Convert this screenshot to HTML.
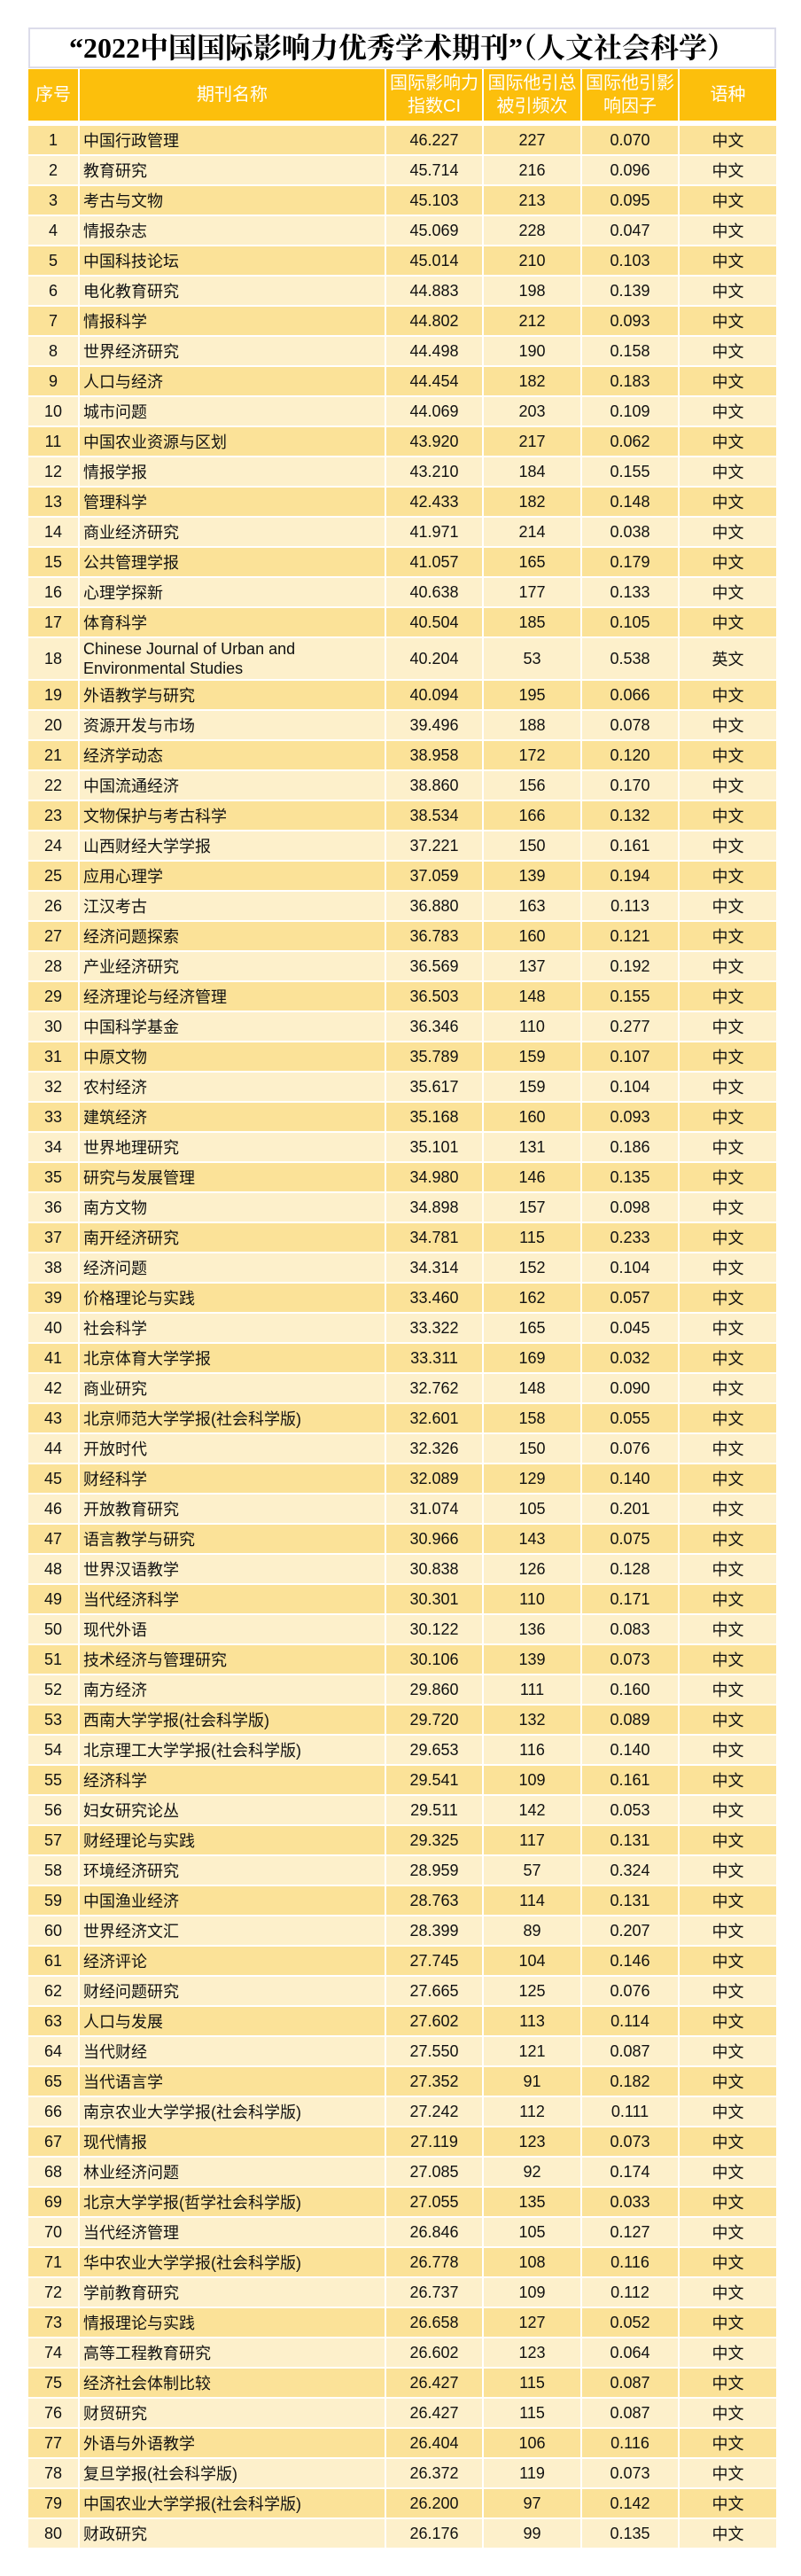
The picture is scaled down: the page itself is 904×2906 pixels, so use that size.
<!DOCTYPE html>
<html><head><meta charset="utf-8"><style>
body{margin:0;background:#fff;width:904px;height:2906px;overflow:hidden;font-family:"Liberation Sans","Noto Sans CJK SC",sans-serif;}
.title{position:absolute;left:32px;top:31px;width:840px;height:42px;border:2px solid #dcdcea;text-align:center;font:bold 32px/42px "Liberation Serif","Noto Serif CJK SC",serif;color:#000;}
.wrap{position:absolute;left:32px;top:78px;width:844px;}
.r{display:flex;height:32px;margin-bottom:2px;font-size:18px;color:#111;}
.r div{margin-right:2px;display:flex;align-items:center;justify-content:center;}
.r div:last-child{margin-right:0}
.c1{width:56px}.c2{width:344px;justify-content:flex-start!important;padding-left:0;box-sizing:border-box}.c3{width:108px}.c4{width:109px}.c5{width:108px}.c6{width:109px}
.c2 span{padding-left:4px}
.o div{background:#fbe298}.e div{background:#fdf0cb}
.h{height:58px;margin-bottom:6px;color:#fff;font-size:20px;line-height:26px;white-space:nowrap}
.h div{background:#fcbf0c;text-align:center}
.h .c2{justify-content:center!important}
.t{height:46px}
.t .c2 span{line-height:22px}
</style></head><body>
<div class="title">“2022中国国际影响力优秀学术期刊”（人文社会科学）</div>
<div class="wrap">
<div class="r h"><div class="c1">序号</div><div class="c2">期刊名称</div><div class="c3">国际影响力<br>指数CI</div><div class="c4">国际他引总<br>被引频次</div><div class="c5">国际他引影<br>响因子</div><div class="c6">语种</div></div>
<div class="r o"><div class="c1">1</div><div class="c2"><span>中国行政管理</span></div><div class="c3">46.227</div><div class="c4">227</div><div class="c5">0.070</div><div class="c6">中文</div></div>
<div class="r e"><div class="c1">2</div><div class="c2"><span>教育研究</span></div><div class="c3">45.714</div><div class="c4">216</div><div class="c5">0.096</div><div class="c6">中文</div></div>
<div class="r o"><div class="c1">3</div><div class="c2"><span>考古与文物</span></div><div class="c3">45.103</div><div class="c4">213</div><div class="c5">0.095</div><div class="c6">中文</div></div>
<div class="r e"><div class="c1">4</div><div class="c2"><span>情报杂志</span></div><div class="c3">45.069</div><div class="c4">228</div><div class="c5">0.047</div><div class="c6">中文</div></div>
<div class="r o"><div class="c1">5</div><div class="c2"><span>中国科技论坛</span></div><div class="c3">45.014</div><div class="c4">210</div><div class="c5">0.103</div><div class="c6">中文</div></div>
<div class="r e"><div class="c1">6</div><div class="c2"><span>电化教育研究</span></div><div class="c3">44.883</div><div class="c4">198</div><div class="c5">0.139</div><div class="c6">中文</div></div>
<div class="r o"><div class="c1">7</div><div class="c2"><span>情报科学</span></div><div class="c3">44.802</div><div class="c4">212</div><div class="c5">0.093</div><div class="c6">中文</div></div>
<div class="r e"><div class="c1">8</div><div class="c2"><span>世界经济研究</span></div><div class="c3">44.498</div><div class="c4">190</div><div class="c5">0.158</div><div class="c6">中文</div></div>
<div class="r o"><div class="c1">9</div><div class="c2"><span>人口与经济</span></div><div class="c3">44.454</div><div class="c4">182</div><div class="c5">0.183</div><div class="c6">中文</div></div>
<div class="r e"><div class="c1">10</div><div class="c2"><span>城市问题</span></div><div class="c3">44.069</div><div class="c4">203</div><div class="c5">0.109</div><div class="c6">中文</div></div>
<div class="r o"><div class="c1">11</div><div class="c2"><span>中国农业资源与区划</span></div><div class="c3">43.920</div><div class="c4">217</div><div class="c5">0.062</div><div class="c6">中文</div></div>
<div class="r e"><div class="c1">12</div><div class="c2"><span>情报学报</span></div><div class="c3">43.210</div><div class="c4">184</div><div class="c5">0.155</div><div class="c6">中文</div></div>
<div class="r o"><div class="c1">13</div><div class="c2"><span>管理科学</span></div><div class="c3">42.433</div><div class="c4">182</div><div class="c5">0.148</div><div class="c6">中文</div></div>
<div class="r e"><div class="c1">14</div><div class="c2"><span>商业经济研究</span></div><div class="c3">41.971</div><div class="c4">214</div><div class="c5">0.038</div><div class="c6">中文</div></div>
<div class="r o"><div class="c1">15</div><div class="c2"><span>公共管理学报</span></div><div class="c3">41.057</div><div class="c4">165</div><div class="c5">0.179</div><div class="c6">中文</div></div>
<div class="r e"><div class="c1">16</div><div class="c2"><span>心理学探新</span></div><div class="c3">40.638</div><div class="c4">177</div><div class="c5">0.133</div><div class="c6">中文</div></div>
<div class="r o"><div class="c1">17</div><div class="c2"><span>体育科学</span></div><div class="c3">40.504</div><div class="c4">185</div><div class="c5">0.105</div><div class="c6">中文</div></div>
<div class="r e t"><div class="c1">18</div><div class="c2"><span>Chinese Journal of Urban and<br>Environmental Studies</span></div><div class="c3">40.204</div><div class="c4">53</div><div class="c5">0.538</div><div class="c6">英文</div></div>
<div class="r o"><div class="c1">19</div><div class="c2"><span>外语教学与研究</span></div><div class="c3">40.094</div><div class="c4">195</div><div class="c5">0.066</div><div class="c6">中文</div></div>
<div class="r e"><div class="c1">20</div><div class="c2"><span>资源开发与市场</span></div><div class="c3">39.496</div><div class="c4">188</div><div class="c5">0.078</div><div class="c6">中文</div></div>
<div class="r o"><div class="c1">21</div><div class="c2"><span>经济学动态</span></div><div class="c3">38.958</div><div class="c4">172</div><div class="c5">0.120</div><div class="c6">中文</div></div>
<div class="r e"><div class="c1">22</div><div class="c2"><span>中国流通经济</span></div><div class="c3">38.860</div><div class="c4">156</div><div class="c5">0.170</div><div class="c6">中文</div></div>
<div class="r o"><div class="c1">23</div><div class="c2"><span>文物保护与考古科学</span></div><div class="c3">38.534</div><div class="c4">166</div><div class="c5">0.132</div><div class="c6">中文</div></div>
<div class="r e"><div class="c1">24</div><div class="c2"><span>山西财经大学学报</span></div><div class="c3">37.221</div><div class="c4">150</div><div class="c5">0.161</div><div class="c6">中文</div></div>
<div class="r o"><div class="c1">25</div><div class="c2"><span>应用心理学</span></div><div class="c3">37.059</div><div class="c4">139</div><div class="c5">0.194</div><div class="c6">中文</div></div>
<div class="r e"><div class="c1">26</div><div class="c2"><span>江汉考古</span></div><div class="c3">36.880</div><div class="c4">163</div><div class="c5">0.113</div><div class="c6">中文</div></div>
<div class="r o"><div class="c1">27</div><div class="c2"><span>经济问题探索</span></div><div class="c3">36.783</div><div class="c4">160</div><div class="c5">0.121</div><div class="c6">中文</div></div>
<div class="r e"><div class="c1">28</div><div class="c2"><span>产业经济研究</span></div><div class="c3">36.569</div><div class="c4">137</div><div class="c5">0.192</div><div class="c6">中文</div></div>
<div class="r o"><div class="c1">29</div><div class="c2"><span>经济理论与经济管理</span></div><div class="c3">36.503</div><div class="c4">148</div><div class="c5">0.155</div><div class="c6">中文</div></div>
<div class="r e"><div class="c1">30</div><div class="c2"><span>中国科学基金</span></div><div class="c3">36.346</div><div class="c4">110</div><div class="c5">0.277</div><div class="c6">中文</div></div>
<div class="r o"><div class="c1">31</div><div class="c2"><span>中原文物</span></div><div class="c3">35.789</div><div class="c4">159</div><div class="c5">0.107</div><div class="c6">中文</div></div>
<div class="r e"><div class="c1">32</div><div class="c2"><span>农村经济</span></div><div class="c3">35.617</div><div class="c4">159</div><div class="c5">0.104</div><div class="c6">中文</div></div>
<div class="r o"><div class="c1">33</div><div class="c2"><span>建筑经济</span></div><div class="c3">35.168</div><div class="c4">160</div><div class="c5">0.093</div><div class="c6">中文</div></div>
<div class="r e"><div class="c1">34</div><div class="c2"><span>世界地理研究</span></div><div class="c3">35.101</div><div class="c4">131</div><div class="c5">0.186</div><div class="c6">中文</div></div>
<div class="r o"><div class="c1">35</div><div class="c2"><span>研究与发展管理</span></div><div class="c3">34.980</div><div class="c4">146</div><div class="c5">0.135</div><div class="c6">中文</div></div>
<div class="r e"><div class="c1">36</div><div class="c2"><span>南方文物</span></div><div class="c3">34.898</div><div class="c4">157</div><div class="c5">0.098</div><div class="c6">中文</div></div>
<div class="r o"><div class="c1">37</div><div class="c2"><span>南开经济研究</span></div><div class="c3">34.781</div><div class="c4">115</div><div class="c5">0.233</div><div class="c6">中文</div></div>
<div class="r e"><div class="c1">38</div><div class="c2"><span>经济问题</span></div><div class="c3">34.314</div><div class="c4">152</div><div class="c5">0.104</div><div class="c6">中文</div></div>
<div class="r o"><div class="c1">39</div><div class="c2"><span>价格理论与实践</span></div><div class="c3">33.460</div><div class="c4">162</div><div class="c5">0.057</div><div class="c6">中文</div></div>
<div class="r e"><div class="c1">40</div><div class="c2"><span>社会科学</span></div><div class="c3">33.322</div><div class="c4">165</div><div class="c5">0.045</div><div class="c6">中文</div></div>
<div class="r o"><div class="c1">41</div><div class="c2"><span>北京体育大学学报</span></div><div class="c3">33.311</div><div class="c4">169</div><div class="c5">0.032</div><div class="c6">中文</div></div>
<div class="r e"><div class="c1">42</div><div class="c2"><span>商业研究</span></div><div class="c3">32.762</div><div class="c4">148</div><div class="c5">0.090</div><div class="c6">中文</div></div>
<div class="r o"><div class="c1">43</div><div class="c2"><span>北京师范大学学报(社会科学版)</span></div><div class="c3">32.601</div><div class="c4">158</div><div class="c5">0.055</div><div class="c6">中文</div></div>
<div class="r e"><div class="c1">44</div><div class="c2"><span>开放时代</span></div><div class="c3">32.326</div><div class="c4">150</div><div class="c5">0.076</div><div class="c6">中文</div></div>
<div class="r o"><div class="c1">45</div><div class="c2"><span>财经科学</span></div><div class="c3">32.089</div><div class="c4">129</div><div class="c5">0.140</div><div class="c6">中文</div></div>
<div class="r e"><div class="c1">46</div><div class="c2"><span>开放教育研究</span></div><div class="c3">31.074</div><div class="c4">105</div><div class="c5">0.201</div><div class="c6">中文</div></div>
<div class="r o"><div class="c1">47</div><div class="c2"><span>语言教学与研究</span></div><div class="c3">30.966</div><div class="c4">143</div><div class="c5">0.075</div><div class="c6">中文</div></div>
<div class="r e"><div class="c1">48</div><div class="c2"><span>世界汉语教学</span></div><div class="c3">30.838</div><div class="c4">126</div><div class="c5">0.128</div><div class="c6">中文</div></div>
<div class="r o"><div class="c1">49</div><div class="c2"><span>当代经济科学</span></div><div class="c3">30.301</div><div class="c4">110</div><div class="c5">0.171</div><div class="c6">中文</div></div>
<div class="r e"><div class="c1">50</div><div class="c2"><span>现代外语</span></div><div class="c3">30.122</div><div class="c4">136</div><div class="c5">0.083</div><div class="c6">中文</div></div>
<div class="r o"><div class="c1">51</div><div class="c2"><span>技术经济与管理研究</span></div><div class="c3">30.106</div><div class="c4">139</div><div class="c5">0.073</div><div class="c6">中文</div></div>
<div class="r e"><div class="c1">52</div><div class="c2"><span>南方经济</span></div><div class="c3">29.860</div><div class="c4">111</div><div class="c5">0.160</div><div class="c6">中文</div></div>
<div class="r o"><div class="c1">53</div><div class="c2"><span>西南大学学报(社会科学版)</span></div><div class="c3">29.720</div><div class="c4">132</div><div class="c5">0.089</div><div class="c6">中文</div></div>
<div class="r e"><div class="c1">54</div><div class="c2"><span>北京理工大学学报(社会科学版)</span></div><div class="c3">29.653</div><div class="c4">116</div><div class="c5">0.140</div><div class="c6">中文</div></div>
<div class="r o"><div class="c1">55</div><div class="c2"><span>经济科学</span></div><div class="c3">29.541</div><div class="c4">109</div><div class="c5">0.161</div><div class="c6">中文</div></div>
<div class="r e"><div class="c1">56</div><div class="c2"><span>妇女研究论丛</span></div><div class="c3">29.511</div><div class="c4">142</div><div class="c5">0.053</div><div class="c6">中文</div></div>
<div class="r o"><div class="c1">57</div><div class="c2"><span>财经理论与实践</span></div><div class="c3">29.325</div><div class="c4">117</div><div class="c5">0.131</div><div class="c6">中文</div></div>
<div class="r e"><div class="c1">58</div><div class="c2"><span>环境经济研究</span></div><div class="c3">28.959</div><div class="c4">57</div><div class="c5">0.324</div><div class="c6">中文</div></div>
<div class="r o"><div class="c1">59</div><div class="c2"><span>中国渔业经济</span></div><div class="c3">28.763</div><div class="c4">114</div><div class="c5">0.131</div><div class="c6">中文</div></div>
<div class="r e"><div class="c1">60</div><div class="c2"><span>世界经济文汇</span></div><div class="c3">28.399</div><div class="c4">89</div><div class="c5">0.207</div><div class="c6">中文</div></div>
<div class="r o"><div class="c1">61</div><div class="c2"><span>经济评论</span></div><div class="c3">27.745</div><div class="c4">104</div><div class="c5">0.146</div><div class="c6">中文</div></div>
<div class="r e"><div class="c1">62</div><div class="c2"><span>财经问题研究</span></div><div class="c3">27.665</div><div class="c4">125</div><div class="c5">0.076</div><div class="c6">中文</div></div>
<div class="r o"><div class="c1">63</div><div class="c2"><span>人口与发展</span></div><div class="c3">27.602</div><div class="c4">113</div><div class="c5">0.114</div><div class="c6">中文</div></div>
<div class="r e"><div class="c1">64</div><div class="c2"><span>当代财经</span></div><div class="c3">27.550</div><div class="c4">121</div><div class="c5">0.087</div><div class="c6">中文</div></div>
<div class="r o"><div class="c1">65</div><div class="c2"><span>当代语言学</span></div><div class="c3">27.352</div><div class="c4">91</div><div class="c5">0.182</div><div class="c6">中文</div></div>
<div class="r e"><div class="c1">66</div><div class="c2"><span>南京农业大学学报(社会科学版)</span></div><div class="c3">27.242</div><div class="c4">112</div><div class="c5">0.111</div><div class="c6">中文</div></div>
<div class="r o"><div class="c1">67</div><div class="c2"><span>现代情报</span></div><div class="c3">27.119</div><div class="c4">123</div><div class="c5">0.073</div><div class="c6">中文</div></div>
<div class="r e"><div class="c1">68</div><div class="c2"><span>林业经济问题</span></div><div class="c3">27.085</div><div class="c4">92</div><div class="c5">0.174</div><div class="c6">中文</div></div>
<div class="r o"><div class="c1">69</div><div class="c2"><span>北京大学学报(哲学社会科学版)</span></div><div class="c3">27.055</div><div class="c4">135</div><div class="c5">0.033</div><div class="c6">中文</div></div>
<div class="r e"><div class="c1">70</div><div class="c2"><span>当代经济管理</span></div><div class="c3">26.846</div><div class="c4">105</div><div class="c5">0.127</div><div class="c6">中文</div></div>
<div class="r o"><div class="c1">71</div><div class="c2"><span>华中农业大学学报(社会科学版)</span></div><div class="c3">26.778</div><div class="c4">108</div><div class="c5">0.116</div><div class="c6">中文</div></div>
<div class="r e"><div class="c1">72</div><div class="c2"><span>学前教育研究</span></div><div class="c3">26.737</div><div class="c4">109</div><div class="c5">0.112</div><div class="c6">中文</div></div>
<div class="r o"><div class="c1">73</div><div class="c2"><span>情报理论与实践</span></div><div class="c3">26.658</div><div class="c4">127</div><div class="c5">0.052</div><div class="c6">中文</div></div>
<div class="r e"><div class="c1">74</div><div class="c2"><span>高等工程教育研究</span></div><div class="c3">26.602</div><div class="c4">123</div><div class="c5">0.064</div><div class="c6">中文</div></div>
<div class="r o"><div class="c1">75</div><div class="c2"><span>经济社会体制比较</span></div><div class="c3">26.427</div><div class="c4">115</div><div class="c5">0.087</div><div class="c6">中文</div></div>
<div class="r e"><div class="c1">76</div><div class="c2"><span>财贸研究</span></div><div class="c3">26.427</div><div class="c4">115</div><div class="c5">0.087</div><div class="c6">中文</div></div>
<div class="r o"><div class="c1">77</div><div class="c2"><span>外语与外语教学</span></div><div class="c3">26.404</div><div class="c4">106</div><div class="c5">0.116</div><div class="c6">中文</div></div>
<div class="r e"><div class="c1">78</div><div class="c2"><span>复旦学报(社会科学版)</span></div><div class="c3">26.372</div><div class="c4">119</div><div class="c5">0.073</div><div class="c6">中文</div></div>
<div class="r o"><div class="c1">79</div><div class="c2"><span>中国农业大学学报(社会科学版)</span></div><div class="c3">26.200</div><div class="c4">97</div><div class="c5">0.142</div><div class="c6">中文</div></div>
<div class="r e"><div class="c1">80</div><div class="c2"><span>财政研究</span></div><div class="c3">26.176</div><div class="c4">99</div><div class="c5">0.135</div><div class="c6">中文</div></div>
</div>
</body></html>
